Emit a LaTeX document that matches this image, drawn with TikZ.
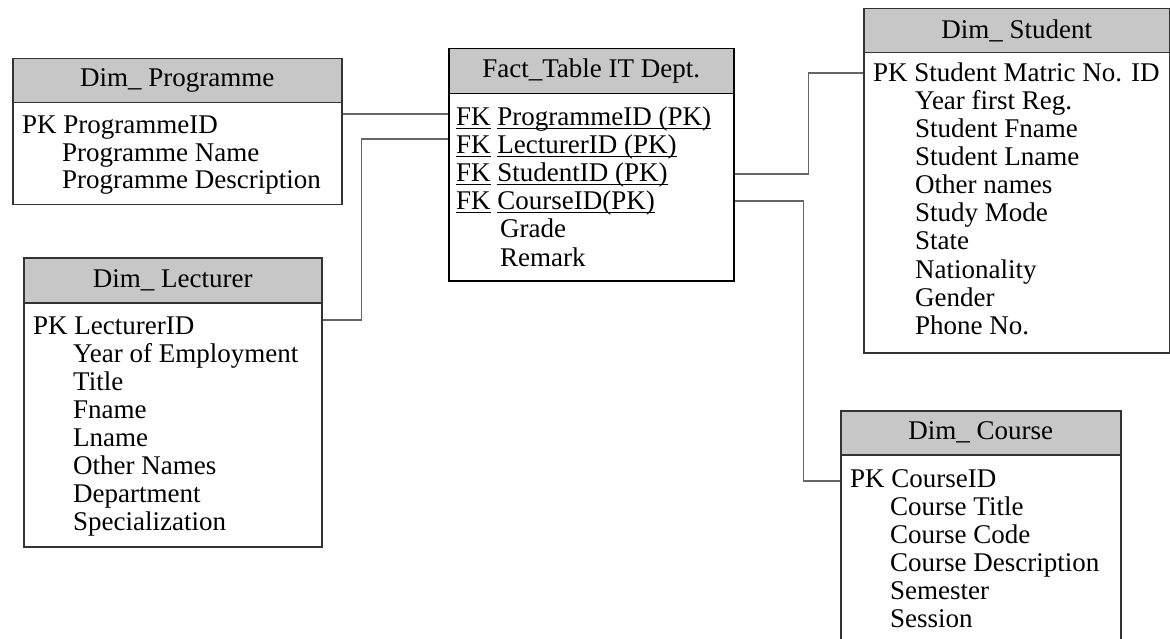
\documentclass[tikz,border=0pt]{standalone}
\usepackage{fontspec}
\setmainfont{Liberation Serif}
\newcommand\fkul[1]{\setbox0\hbox{#1}\rlap{\rule[-3.5pt]{\wd0}{1.3pt}}\box0\relax}
\tikzset{
  hdr/.style={draw=black!80, line width=1.5pt, fill=black!22, anchor=north west, inner sep=0pt,
              font=\fontsize{27}{28}\selectfont},
  bodybox/.style={draw=black!80, line width=1.5pt, fill=white, anchor=north west, inner sep=0pt},
  factbox/.style={bodybox, draw=black},
  row/.style={anchor=base west, inner sep=0pt, font=\fontsize{27}{28}\selectfont},
  conn/.style={draw=black!60, line width=1.2pt}
}
\begin{document}
\begin{tikzpicture}[x=1pt,y=-1pt]
\clip (0,0) rectangle (1170,639);
\fill[white] (0,0) rectangle (1170,639);

% Dim_ Programme
\node[bodybox, minimum width=329pt, minimum height=102pt] (prog) at (12,102) {};
\node[hdr, minimum width=329pt, minimum height=44pt] (progH) at (12,58) {Dim\_ Programme};
\node[row] (p1) at (22,134) {PK ProgrammeID};
\node[row] (p2) at (62,162) {Programme Name};
\node[row] (p3) at (62,189) {Programme Description};

% Fact table
\node[factbox, minimum width=285pt, minimum height=187pt] (fact) at (448,93) {};
\node[hdr, draw=black, minimum width=285pt, minimum height=45pt] (factH) at (448,48) {Fact\_Table IT Dept.};
\node[row] (f1) at (456,126) {\fkul{FK}\ \fkul{ProgrammeID (PK)}};
\node[row] (f2) at (456,154) {\fkul{FK}\ \fkul{LecturerID (PK)}};
\node[row] (f3) at (456,182) {\fkul{FK}\ \fkul{StudentID (PK)}};
\node[row] (f4) at (456,210) {\fkul{FK}\ \fkul{CourseID(PK)}};
\node[row] (f5) at (500,238) {Grade};
\node[row] (f6) at (500,266) {Remark};

% Dim_ Lecturer
\node[bodybox, minimum width=298pt, minimum height=244pt] (lect) at (23,302) {};
\node[hdr, minimum width=298pt, minimum height=45pt] (lectH) at (23,257) {Dim\_ Lecturer};
\node[row] (l1) at (33,334) {PK LecturerID};
\node[row] (l2) at (73,362) {Year of Employment};
\node[row] (l3) at (73,390) {Title};
\node[row] (l4) at (73,418) {Fname};
\node[row] (l5) at (73,446) {Lname};
\node[row] (l6) at (73,474) {Other Names};
\node[row] (l7) at (73,502) {Department};
\node[row] (l8) at (73,530) {Specialization};

% Dim_ Student
\node[bodybox, minimum width=306pt, minimum height=300pt] (stud) at (863,52) {};
\node[hdr, minimum width=306pt, minimum height=44pt] (studH) at (863,8) {Dim\_ Student};
\node[row] (s1) at (873,82) {PK Student Matric No. ID};
\node[row] (s2) at (915,110) {Year first Reg.};
\node[row] (s3) at (915,138) {Student Fname};
\node[row] (s4) at (915,166) {Student Lname};
\node[row] (s5) at (915,194) {Other names};
\node[row] (s6) at (915,222) {Study Mode};
\node[row] (s7) at (915,250) {State};
\node[row] (s8) at (915,278) {Nationality};
\node[row] (s9) at (915,306) {Gender};
\node[row] (s10) at (915,334) {Phone No.};

% Dim_ Course
\node[bodybox, minimum width=280pt, minimum height=220pt] (course) at (840,454) {};
\node[hdr, minimum width=280pt, minimum height=44pt] (courseH) at (840,410) {Dim\_ Course};
\node[row] (c1) at (850,487) {PK CourseID};
\node[row] (c2) at (890,515) {Course Title};
\node[row] (c3) at (890,543) {Course Code};
\node[row] (c4) at (890,571) {Course Description};
\node[row] (c5) at (890,599) {Semester};
\node[row] (c6) at (890,627) {Session};

% connectors
\draw[conn] (prog.east |- 0,114) -- (fact.west |- 0,114);
\draw[conn] (lect.east |- 0,320) -- ++(39,0) |- (fact.west |- 0,139);
\draw[conn] (fact.east |- 0,174) -- ++(74,0) |- (stud.west |- 0,73);
\draw[conn] (fact.east |- 0,201) -- ++(69,0) |- (course.west |- 0,481);
\end{tikzpicture}
\end{document}
